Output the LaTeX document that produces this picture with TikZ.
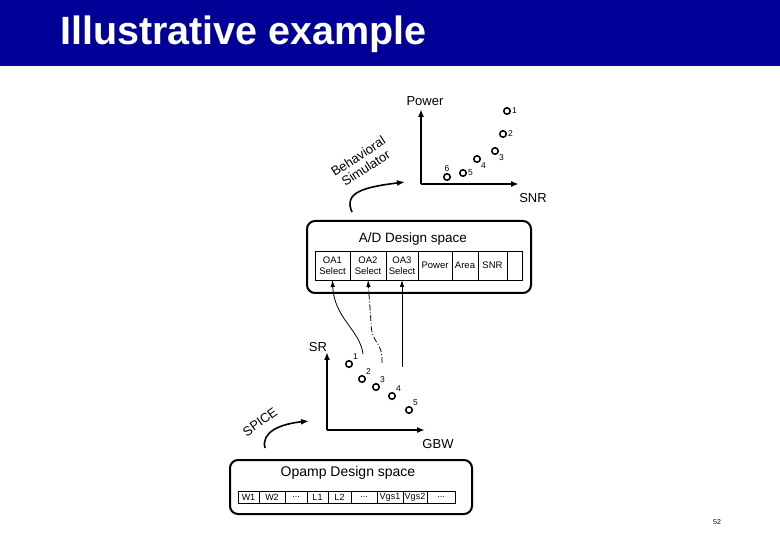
\documentclass[tikz,border=0pt]{standalone}
\usepackage{fontspec}
\setmainfont{Liberation Sans}
\usetikzlibrary{arrows.meta, positioning}
\definecolor{slideblue}{RGB}{0, 0, 150}
\newcommand{\fsz}[1]{\fontsize{#1}{#1}\selectfont}

\begin{document}
\begin{tikzpicture}[x=1pt, y=-1pt,
    axis/.style={-{Latex[length=8pt, width=6pt]}, line width=2.2pt},
    pt/.style={circle, draw, line width=1.5pt, inner sep=0pt, minimum size=6.5pt},
    ptlbl/.style={font=\fsz{8.5}, inner sep=1pt},
    designbox/.style={draw, line width=2pt, rounded corners=8pt, inner sep=0pt},
    cell/.style={draw, line width=0.8pt, inner sep=0pt, outer sep=0pt, align=center},
    toolarrow/.style={-{Latex[length=8pt, width=6pt]}, line width=1.6pt},
    pick/.style={-{Latex[length=7pt, width=4.5pt]}, line width=0.8pt}]
  \useasboundingbox (0,0) rectangle (780,540);

  % --- title bar ---
  \fill[slideblue] (0,0) rectangle (780,66);
  \node[anchor=base west, inner sep=0pt, text=white, font=\fsz{39.5}\bfseries] (title) at (60,45) {Illustrative example};

  % --- Power / SNR plot ---
  \coordinate (o1) at (421,184);
  \coordinate (pwrtop) at (421,109);
  \coordinate (snrend) at (519,184);
  \draw[axis] (o1) -- (pwrtop);
  \draw[axis] (o1) -- (snrend);
  \node[font=\fsz{13}] (pwrlbl) at (425,101) {Power};
  \node[font=\fsz{13}] (snrlbl) at (533,198) {SNR};
  \node[pt, label={[ptlbl]right:1}] (a1) at (507,111) {};
  \node[pt, label={[ptlbl]right:2}] (a2) at (503,134) {};
  \node[pt, label={[ptlbl]below right:3}] (a3) at (495,151) {};
  \node[pt, label={[ptlbl]below right:4}] (a4) at (477,159) {};
  \node[pt, label={[ptlbl]right:5}] (a5) at (463,173) {};
  \node[pt, label={[ptlbl]above:6}] (a6) at (447,177) {};
  % Behavioral simulator
  \node[font=\fsz{13}, align=center, rotate=33] (behav) at (362,162) {Behavioral\\[1pt]Simulator};
  \coordinate (bs0) at (352,212);
  \coordinate (bs1) at (405,182);
  \draw[toolarrow] (bs0) .. controls (343,192) and (365,187) .. (bs1);

  % --- A/D design space ---
  \node[designbox, minimum width=224pt, minimum height=72pt] (adbox) at (419,257) {};
  \node[font=\fsz{13.5}] (adtitle) at (413,239) {A/D Design space};
  \node[cell, font=\fsz{9.5}, minimum width=35pt, minimum height=29pt, anchor=west] (oa1) at (315,265.5) {OA1\\[2pt]Select};
  \node[cell, font=\fsz{9.5}, minimum width=36pt, minimum height=29pt, right=0pt of oa1] (oa2) {OA2\\[2pt]Select};
  \node[cell, font=\fsz{9.5}, minimum width=32pt, minimum height=29pt, right=0pt of oa2] (oa3) {OA3\\[2pt]Select};
  \node[cell, font=\fsz{9.5}, minimum width=34pt, minimum height=29pt, right=0pt of oa3] (power) {Power};
  \node[cell, font=\fsz{9.5}, minimum width=26pt, minimum height=29pt, right=0pt of power] (area) {Area};
  \node[cell, font=\fsz{9.5}, minimum width=29pt, minimum height=29pt, right=0pt of area] (snr) {SNR};
  \node[cell, minimum width=15pt, minimum height=29pt, right=0pt of snr] (blank) {};

  % --- SR / GBW plot ---
  \coordinate (o2) at (327,430);
  \coordinate (srtop) at (327,352);
  \coordinate (gbwend) at (425,430);
  \draw[axis] (o2) -- (srtop);
  \draw[axis] (o2) -- (gbwend);
  \node[font=\fsz{13}] (srlbl) at (318,347) {SR};
  \node[font=\fsz{13}] (gbwlbl) at (438,444) {GBW};
  \node[pt, label={[ptlbl]above right:1}] (b1) at (349,364) {};
  \node[pt, label={[ptlbl]above right:2}] (b2) at (362,379) {};
  \node[pt, label={[ptlbl]above right:3}] (b3) at (376,387) {};
  \node[pt, label={[ptlbl]above right:4}] (b4) at (392,396) {};
  \node[pt, label={[ptlbl]above right:5}] (b5) at (409,410) {};
  % SPICE
  \node[font=\fsz{13}, rotate=36] (spice) at (260,422) {SPICE};
  \coordinate (sp0) at (265,448);
  \coordinate (sp1) at (309,421);
  \draw[toolarrow] (sp0) .. controls (261,432) and (280,424) .. (sp1);

  % selected opamps feeding the A/D cells
  \coordinate (s1) at (363,354);
  \coordinate (s2) at (382,363);
  \coordinate (s3) at (402,367);
  \draw[pick] (s1) .. controls (360,330) and (334,318) .. (oa1.south);
  \draw[pick, dash pattern=on 6pt off 2pt on 1pt off 2pt] (s2) .. controls (383,340) and (371,345) .. (371,322) -- (oa2.south);
  \draw[pick] (s3) -- (oa3.south);

  % --- Opamp design space ---
  \node[designbox, minimum width=242pt, minimum height=54pt] (opbox) at (351,487) {};
  \node[font=\fsz{14}] (optitle) at (348,473) {Opamp Design space};
  \node[cell, font=\fsz{9}, minimum width=21pt, minimum height=12pt, anchor=west] (w1) at (238,497) {W1};
  \node[cell, font=\fsz{9}, minimum width=26pt, minimum height=12pt, right=0pt of w1] (w2) {W2};
  \node[cell, font=\fsz{9}, minimum width=22pt, minimum height=12pt, right=0pt of w2] (d1) {...};
  \node[cell, font=\fsz{9}, minimum width=21pt, minimum height=12pt, right=0pt of d1] (l1) {L1};
  \node[cell, font=\fsz{9}, minimum width=23pt, minimum height=12pt, right=0pt of l1] (l2) {L2};
  \node[cell, font=\fsz{9}, minimum width=26pt, minimum height=12pt, right=0pt of l2] (d2) {...};
  \node[cell, font=\fsz{9}, minimum width=26pt, minimum height=12pt, right=0pt of d2] (vgs1) {Vgs1};
  \node[cell, font=\fsz{9}, minimum width=24pt, minimum height=12pt, right=0pt of vgs1] (vgs2) {Vgs2};
  \node[cell, font=\fsz{9}, minimum width=28pt, minimum height=12pt, right=0pt of vgs2] (d3) {...};

  % page number
  \node[font=\fsz{7}] (pgno) at (717,522) {52};
\end{tikzpicture}
\end{document}
